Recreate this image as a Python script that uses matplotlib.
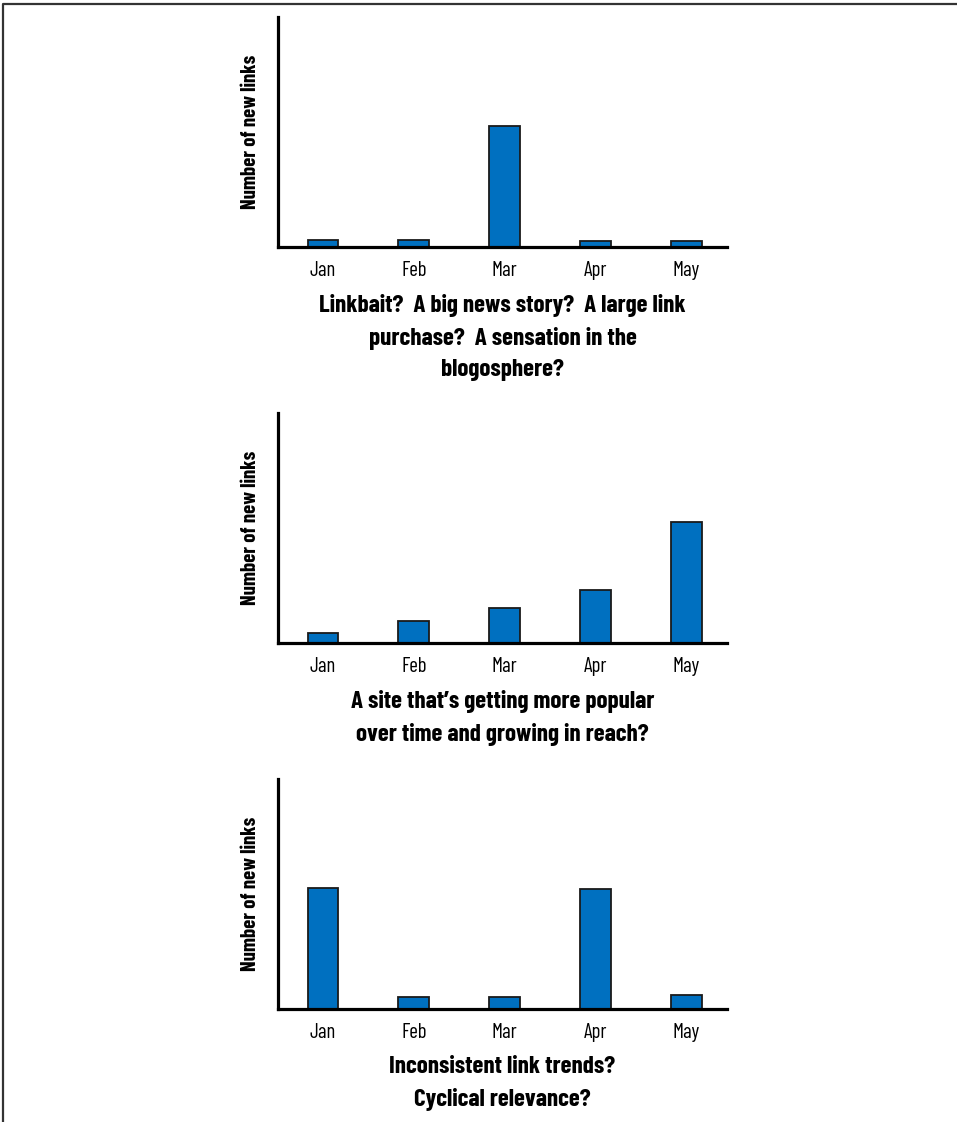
import matplotlib
matplotlib.use("Agg")
import matplotlib.pyplot as plt
from matplotlib.lines import Line2D

plt.rcParams['font.family'] = ['Barlow Condensed', 'DejaVu Sans']

months = ["Jan", "Feb", "Mar", "Apr", "May"]

# bar heights (arbitrary units, axis top = 230)
spike = [7, 7, 121, 6.5, 6.5]
growth = [10, 22, 35, 53, 121]
cyclical = [121, 12, 12, 120, 14]

titles = [
    "Linkbait?  A big news story?  A large link\npurchase?  A sensation in the\nblogosphere?",
    "A site that\u2019s getting more popular\nover time and growing in reach?",
    "Inconsistent link trends?\nCyclical relevance?",
]
ylab = "Number of new links"

fig = plt.figure(figsize=(9.57, 11.22), dpi=100)

bottoms = [1 - 247/1122, 1 - 643/1122, 1 - 1009/1122]
left = 278/957
width = (727 - 278)/957
height = 230/1122

for b, vals, t in zip(bottoms, [spike, growth, cyclical], titles):
    ax = fig.add_axes([left, b, width, height])
    x = range(len(months))
    ax.bar(x, vals, width=0.34, color="#0070c0", edgecolor="#1a1a1a", linewidth=1.3)
    ax.set_xlim(-0.495, 4.445)
    ax.set_ylim(0, 230)
    for s in ["top", "right"]:
        ax.spines[s].set_visible(False)
    for s in ["left", "bottom"]:
        ax.spines[s].set_linewidth(2.3)
        ax.spines[s].set_color("black")
    ax.set_yticks([])
    ax.set_xticks(list(x))
    ax.set_xticklabels(months, fontsize=15)
    ax.tick_params(axis="x", length=0, pad=10)
    ax.set_ylabel(ylab, fontsize=15, fontweight="bold", labelpad=13)
    ax.set_xlabel(t, fontsize=18, fontweight="bold", linespacing=1.55, labelpad=10)

# page frame (top and left edges)
fig.add_artist(Line2D([3/957, 3/957, 1], [0, 1 - 4/1122, 1 - 4/1122],
                      transform=fig.transFigure, color="#333333", linewidth=1.6))

fig.savefig("out.png", dpi=100)
